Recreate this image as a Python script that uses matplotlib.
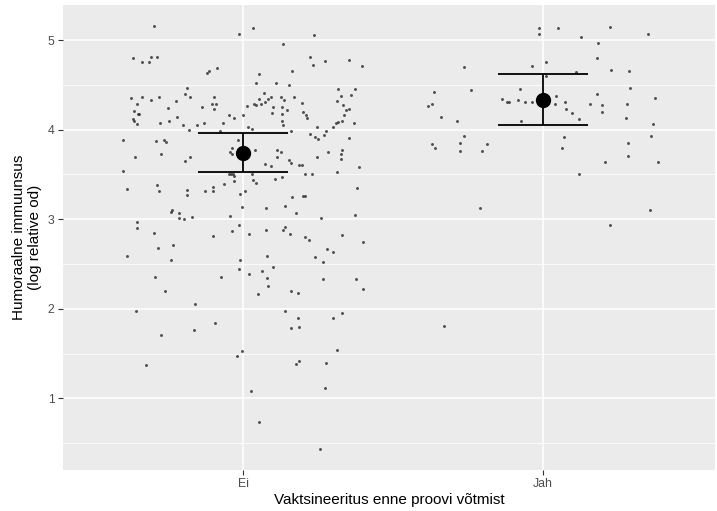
import matplotlib
matplotlib.use("Agg")
import matplotlib.pyplot as plt
import numpy as np

categories = ["Ei", "Jah"]

# jitter offsets (category units) and values
ei_offset = [-0.296,-0.012,0.032,0.238,0.134,-0.366,-0.336,-0.312,-0.307,-0.287,0.222,0.274,0.234,0.352,0.396,
 -0.088,-0.114,-0.119,0.162,0.054,0.044,0.110,0.152,-0.188,-0.194,-0.176,0.316,0.374,0.328,0.361,
 -0.373,-0.336,-0.307,-0.281,-0.224,-0.098,-0.104,-0.091,-0.136,-0.096,-0.25,-0.354,-0.364,-0.351,-0.347,
 -0.367,-0.363,-0.352,-0.277,-0.247,-0.219,-0.199,-0.18,-0.153,-0.131,-0.078,-0.067,-0.048,-0.031,0.0,
 0.013,0.017,0.029,0.036,0.044,0.052,0.061,0.07,0.072,0.084,0.093,0.1,0.096,0.128,0.138,0.169,0.129,0.146,
 0.131,0.13,0.133,0.159,0.196,0.2,0.209,0.213,0.248,0.223,0.241,0.25,0.269,0.276,0.3,0.31,0.316,0.331,0.337,
 0.344,0.354,0.312,0.334,0.37,0.353,-0.4,-0.291,-0.262,-0.257,-0.361,-0.273,-0.193,-0.178,-0.017,-0.036,
 -0.042,-0.038,0.039,0.112,0.126,0.113,0.073,0.093,0.152,0.161,0.186,0.198,0.247,0.284,0.329,0.327,0.327,
 0.386,0.312,-0.401,-0.046,-0.04,-0.032,-0.029,0.031,0.032,0.042,-0.029,-0.063,-0.1,-0.099,-0.127,0.006,
 -0.009,0.108,0.129,0.206,0.231,-0.386,-0.288,-0.28,-0.186,-0.187,0.163,0.199,0.206,0.379,-0.004,0.076,
 0.141,0.177,-0.238,-0.241,-0.214,-0.214,-0.196,-0.171,-0.044,0.259,0.372,-0.353,-0.353,-0.298,-0.1,-0.036,
 -0.012,0.021,0.078,0.133,0.141,0.156,0.206,0.22,0.331,0.4,-0.282,-0.234,0.28,0.301,-0.388,-0.241,-0.011,
 0.081,0.24,0.266,-0.292,-0.074,-0.014,0.019,0.063,0.1,0.079,0.083,0.049,0.16,0.184,0.267,0.376,0.4,-0.261,
 -0.16,-0.357,0.14,0.184,0.299,0.329,-0.092,-0.164,-0.272,0.16,0.187,-0.002,-0.02,0.312,-0.322,0.176,0.186,
 0.276,0.027,0.274,0.054,0.258]
ei_value = [5.16,5.07,5.13,5.06,4.96,4.80,4.75,4.76,4.81,4.81,4.81,4.77,4.72,4.78,4.71,
 4.69,4.66,4.63,4.66,4.62,4.52,4.52,4.50,4.46,4.40,4.37,4.45,4.45,4.38,4.39,
 4.35,4.36,4.33,4.36,4.32,4.36,4.29,4.29,4.25,4.23,4.24,4.29,4.21,4.18,4.17,
 4.12,4.10,4.06,4.08,4.10,4.14,4.05,4.00,4.05,4.08,3.99,4.07,4.16,4.13,4.16,
 4.26,4.03,4.01,4.29,4.27,4.34,4.29,4.41,4.31,4.34,4.36,4.25,4.19,4.37,4.33,4.36,4.25,4.22,
 4.18,4.10,4.05,3.99,4.30,4.20,4.16,4.13,4.03,3.95,3.92,3.90,3.94,3.98,4.03,4.07,4.09,4.10,4.16,
 4.22,4.23,4.32,4.28,4.08,3.91,3.89,3.87,3.89,3.86,3.70,3.73,3.65,3.69,3.89,3.80,
 3.75,3.73,3.77,3.77,3.75,3.70,3.62,3.59,3.66,3.63,3.61,3.61,3.70,3.75,3.77,3.73,3.67,
 3.58,3.53,3.54,3.51,3.51,3.50,3.48,3.51,3.44,3.40,3.43,3.39,3.36,3.32,3.32,3.32,
 3.28,3.45,3.47,3.51,3.51,3.34,3.38,3.32,3.33,3.27,3.25,3.26,3.26,3.35,3.14,3.13,
 3.15,3.07,3.10,3.08,3.07,3.01,3.00,3.03,3.04,3.01,3.05,2.97,2.90,2.85,2.81,2.87,
 2.94,2.83,2.88,2.88,2.91,2.84,2.80,2.77,2.82,2.75,2.68,2.71,2.67,2.63,2.59,2.54,2.55,
 2.59,2.58,2.52,2.36,2.36,2.44,2.39,2.42,2.47,2.34,2.26,2.16,2.20,2.18,2.33,2.33,2.22,2.20,
 2.05,1.97,1.98,1.90,1.90,1.95,1.84,1.76,1.71,1.79,1.80,1.53,1.47,1.54,1.37,1.38,1.42,
 1.39,1.08,1.11,0.74,0.43]

jah_offset = [-0.013,-0.013,0.05,0.224,0.351,0.126,0.183,0.179,-0.263,-0.036,0.009,0.228,0.286,0.11,0.011,
 -0.363,-0.239,-0.077,0.29,-0.369,-0.383,-0.34,-0.287,-0.136,-0.12,-0.114,-0.084,-0.059,-0.037,0.042,
 0.041,0.074,0.077,0.098,0.119,0.156,0.181,0.198,0.198,0.279,0.374,0.278,-0.074,0.367,-0.263,-0.277,
 -0.371,-0.359,-0.276,-0.204,-0.186,0.071,0.063,0.284,0.359,0.282,0.206,0.384,0.121,-0.21,0.357,0.222,-0.33]
jah_value = [5.14,5.07,5.14,5.15,5.07,5.03,4.97,4.80,4.70,4.71,4.75,4.67,4.66,4.64,4.60,
 4.42,4.44,4.45,4.47,4.29,4.26,4.14,4.10,4.34,4.31,4.31,4.33,4.31,4.31,4.38,
 4.29,4.31,4.23,4.19,4.12,4.29,4.40,4.28,4.20,4.29,4.35,4.13,4.10,4.06,3.93,3.85,
 3.84,3.79,3.76,3.76,3.84,3.92,3.79,3.85,3.93,3.71,3.64,3.64,3.50,3.12,3.10,2.94,1.81]

# summary (mean and interval) per category
means = [3.74, 4.33]
lower = [3.53, 4.05]
upper = [3.96, 4.62]

plt.rcParams['font.family'] = ['Liberation Sans', 'DejaVu Sans']

W, H = 717, 511
fig = plt.figure(figsize=(W/100, H/100), dpi=100)
ax = fig.add_axes([63/W, (H-470)/H, (715-63)/W, (470-5)/H])
ax.set_facecolor('#EBEBEB')

xpos = np.arange(1, len(categories)+1)

ax.set_xlim(0.4, 2.573)
ax.set_ylim(0.2, 5.392)

ax.set_yticks([1, 2, 3, 4, 5])
ax.set_yticks([0.5, 1.5, 2.5, 3.5, 4.5], minor=True)
ax.set_xticks(xpos)
ax.set_xticklabels(categories)

ax.grid(which='major', color='white', linewidth=1.1)
ax.grid(which='minor', axis='y', color='white', linewidth=0.55)
ax.set_axisbelow(True)
for s in ax.spines.values():
    s.set_visible(False)

ax.tick_params(which='major', length=3.5, width=0.8, color='#333333', labelcolor='#4D4D4D',
               labelsize=8.8, pad=2.5)
ax.tick_params(which='minor', length=0)

ax.scatter(xpos[0] + np.array(ei_offset), ei_value, s=4.5, color='#333333', alpha=0.85,
           linewidths=0, zorder=2)
ax.scatter(xpos[1] + np.array(jah_offset), jah_value, s=4.5, color='#333333', alpha=0.85,
           linewidths=0, zorder=2)

yerr = [np.array(means) - np.array(lower), np.array(upper) - np.array(means)]
ax.errorbar(xpos, means, yerr=yerr, fmt='none', ecolor='black', elinewidth=1.3,
            capsize=0, zorder=3)
for xp, lo, hi in zip(xpos, lower, upper):
    ax.hlines([lo, hi], xp - 0.15, xp + 0.15, color='black', linewidth=1.3, zorder=3)
ax.plot(xpos, means, 'o', color='black', markersize=10, zorder=4)

ax.set_xlabel('Vaktsineeritus enne proovi võtmist', fontsize=11, labelpad=2)
ax.set_ylabel('Humoraalne immuunsus\n(log relative od)', fontsize=11, labelpad=4,
              multialignment='center')

fig.savefig('out.png', dpi=100)
